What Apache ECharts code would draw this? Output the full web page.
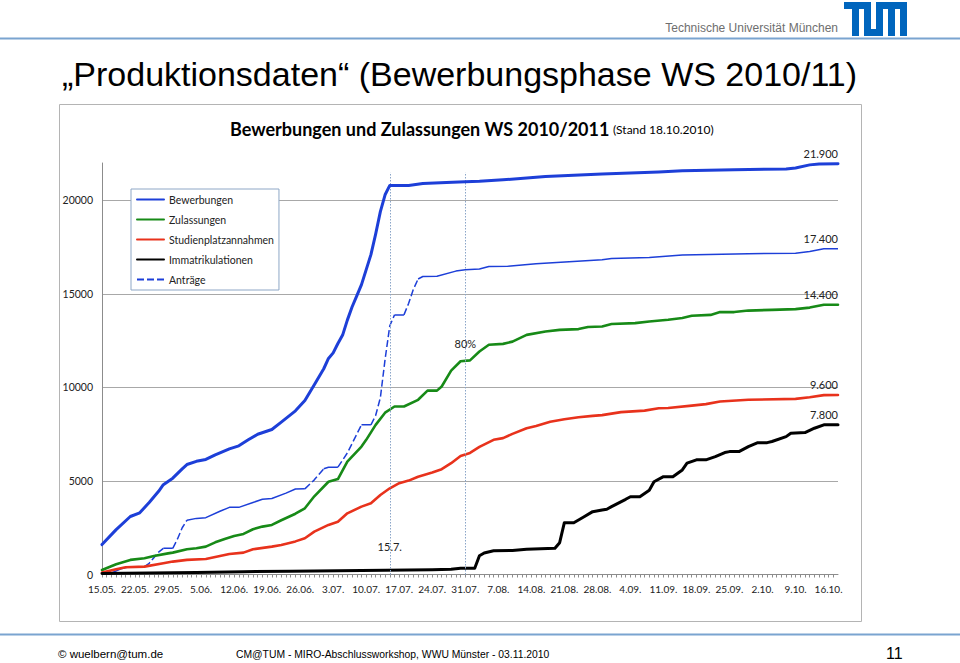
<!DOCTYPE html>
<html><head><meta charset="utf-8">
<script src="https://cdn.jsdelivr.net/npm/echarts@6/dist/echarts.min.js"></script>
<style>html,body{margin:0;padding:0;background:#fff}#c{width:960px;height:663px}</style>
</head><body><div id="c"></div>
<script>
// x values = days after 15.05.2010 (day 0) up to 18.10.2010 (day 156)
const tickLabels = ['15.05.','22.05.','29.05.','5.06.','12.06.','19.06.','26.06.','3.07.','10.07.','17.07.','24.07.','31.07.','7.08.','14.08.','21.08.','28.08.','4.09.','11.09.','18.09.','25.09.','2.10.','9.10.','16.10.'];
const seriesNames = ['Bewerbungen','Zulassungen','Studienplatzannahmen','Immatrikulationen','Anträge'];
const endLabels = ['21.900','14.400','9.600','7.800','17.400'];

const bewerbungen = [[0,1600],[3,2400],[6,3100],[8,3300],[10,3850],[12,4450],[13,4800],[15,5150],[17,5650],[18,5880],[20,6050],[22,6150],[24,6400],[27,6720],[29,6880],[31,7200],[33,7500],[36,7750],[38,8150],[41,8750],[43,9300],[45,10150],[47,11000],[48,11550],[49,11850],[50,12350],[51,12800],[52,13600],[53,14300],[54,14900],[55,15500],[56,16300],[57,17100],[58,18200],[59,19400],[60,20300],[61,20800],[65,20800],[68,20900],[73,20960],[77,21000],[80,21020],[85,21100],[94,21280],[106,21410],[118,21520],[123,21590],[134,21640],[145,21680],[147,21730],[150,21900],[152,21950],[156,21960]];
const zulassungen = [[0,240],[3,550],[6,780],[9,870],[11,990],[14,1130],[15,1170],[18,1350],[20,1400],[22,1490],[24,1720],[26,1900],[28,2060],[30,2170],[32,2420],[34,2560],[36,2650],[38,2900],[41,3250],[43,3540],[45,4180],[48,4960],[50,5100],[52,6040],[55,6840],[56,7200],[58,8000],[60,8650],[62,8980],[64,8980],[67,9340],[69,9830],[71,9830],[72,10050],[74,10900],[76,11400],[78,11450],[80,11920],[82,12280],[85,12330],[87,12450],[90,12810],[94,12990],[97,13080],[101,13120],[103,13230],[106,13260],[108,13390],[113,13440],[116,13530],[120,13620],[123,13710],[125,13830],[129,13880],[131,14030],[134,14030],[137,14110],[142,14150],[147,14190],[150,14270],[153,14420],[156,14420]];
const annahmen = [[0,100],[3,280],[5,390],[9,420],[13,600],[15,690],[18,780],[22,830],[25,990],[27,1100],[30,1170],[32,1350],[36,1490],[38,1580],[41,1770],[43,1940],[45,2290],[48,2650],[50,2820],[52,3270],[55,3630],[57,3810],[59,4250],[61,4610],[63,4880],[65,5020],[67,5230],[70,5450],[72,5630],[74,5950],[76,6340],[78,6500],[80,6820],[83,7200],[85,7290],[87,7520],[90,7820],[92,7940],[95,8170],[98,8300],[101,8410],[104,8480],[106,8520],[110,8680],[115,8760],[118,8890],[120,8900],[125,9030],[128,9110],[131,9250],[137,9340],[147,9390],[150,9480],[153,9590],[156,9600]];
const immatrikulationen = [[0,50],[10,80],[20,110],[30,150],[40,170],[50,200],[60,230],[70,260],[74,280],[76,330],[79,330],[80,1000],[81,1150],[83,1270],[87,1280],[90,1350],[96,1400],[97,1700],[98,2770],[100,2770],[102,3060],[104,3360],[106,3450],[107,3490],[108,3630],[111,4020],[112,4160],[114,4160],[116,4500],[117,4960],[119,5230],[121,5230],[123,5590],[124,5950],[126,6130],[128,6130],[130,6300],[132,6520],[133,6570],[135,6570],[137,6840],[139,7050],[141,7050],[142,7110],[145,7370],[146,7550],[149,7590],[151,7820],[153,8000],[156,8000]];
const antraege = [[1,0],[2,80],[4,300],[6,420],[9,420],[10,600],[11,900],[12,1200],[13,1400],[15,1400],[16,1900],[17,2500],[18,2900],[20,3000],[22,3040],[25,3380],[27,3590],[29,3590],[32,3850],[34,4020],[36,4060],[39,4350],[41,4570],[43,4580],[45,5060],[47,5650],[48,5730],[50,5740],[52,6500],[53,7000],[55,8000],[57,8000],[58,8500],[59,9450],[60,11500],[61,13300],[62,13880],[64,13880],[65,14500],[66,15250],[67,15800],[68,15930],[71,15950],[75,16220],[77,16290],[80,16330],[82,16470],[86,16480],[92,16610],[99,16720],[106,16830],[108,16900],[116,16950],[123,17080],[137,17150],[147,17180],[150,17270],[153,17420],[156,17420]];

// reference lines (15.07. and 31.07.) and their captions
const markerDays = [61, 77];
const markerTexts = ['15.7.', '80%'];
const markerTextValues = [1500, 12350];
const markerTop = 21500;

// split the Anträge line: steep parts dashed, flat parts solid
function splitSteep(data, thr) {
  const steep = [], flat = [];
  for (let i = 0; i < data.length - 1; i++) {
    const a = data[i], b = data[i+1];
    const isSteep = (b[1]-a[1])/(b[0]-a[0]) > thr;
    const t = isSteep ? steep : flat;
    if (t.length && t[t.length-1] !== a) t.push([a[0], null]);
    if (!t.length || t[t.length-1] !== a) t.push(a);
    t.push(b);
  }
  return {steep, flat};
}
const ant = splitSteep(antraege, 170);

const FONT = 'Lato';
function endMark(data, text) {
  return {
    symbol: 'circle', symbolSize: 1, silent: true,
    itemStyle: {color: 'rgba(0,0,0,0)'},
    data: [{coord: data[data.length-1], label: {show: true, formatter: text, position: 'top', align: 'right', distance: 4, color: '#222', fontSize: 11, fontFamily: FONT}}]
  };
}

const BLUE = '#1d3fd8', GREEN = '#178a17', RED = '#e8321c', BLACK = '#000';

const chart = echarts.init(document.getElementById('c'), null, {renderer: 'svg'});
chart.setOption({
  animation: false,
  backgroundColor: '#fff',
  grid: {left: 102, right: 122, top: 163, bottom: 88.5},
  xAxis: {
    type: 'value', min: 0, max: 156, interval: 1,
    axisLine: {show: true, onZero: true, lineStyle: {color: '#8c8c8c', width: 1}},
    axisTick: {show: true, length: 3, lineStyle: {color: '#8c8c8c'}},
    splitLine: {show: false},
    axisLabel: {formatter: v => (v % 7 === 0 && tickLabels[v/7]) ? tickLabels[v/7] : '', color: '#222', fontSize: 10, fontFamily: FONT, margin: 9, showMaxLabel: false}
  },
  yAxis: {
    type: 'value', min: 0, max: 22000, interval: 5000,
    axisLine: {show: true, lineStyle: {color: '#8c8c8c'}},
    axisTick: {show: false},
    splitLine: {show: true, showMaxLine: false, lineStyle: {color: '#a8a8a8', width: 1}},
    axisLabel: {formatter: v => String(v), showMaxLabel: false, color: '#222', fontSize: 10.5, fontFamily: FONT, margin: 9}
  },
  legend: {
    orient: 'vertical', left: 131, top: 189,
    data: seriesNames,
    itemWidth: 27, itemHeight: 2, itemGap: 7,
    padding: [4, 5, 4, 5],
    backgroundColor: '#fff', borderColor: '#8ea7c6', borderWidth: 1, borderRadius: 0,
    itemStyle: {opacity: 0, borderWidth: 0},
    textStyle: {fontFamily: FONT, fontSize: 10.5, color: '#222', lineHeight: 13},
    selectedMode: false
  },
  series: [
    {name: seriesNames[0], type: 'line', data: bewerbungen, symbol: 'none', z: 5,
     lineStyle: {color: BLUE, width: 3, cap: 'round', join: 'round'}, itemStyle: {color: BLUE},
     markPoint: (() => { const m = endMark(bewerbungen, endLabels[0]);
        markerDays.forEach((d, i) => m.data.push({coord: [d, markerTextValues[i]], label: {show: true, formatter: markerTexts[i], position: 'inside', align: 'center', color: '#222', fontSize: 11, fontFamily: FONT}}));
        return m; })(),
     markLine: {symbol: 'none', silent: true, label: {show: false},
       lineStyle: {color: '#8aa5c8', type: [1.5, 1.5], width: 1},
       data: markerDays.map(d => [{coord: [d, 0]}, {coord: [d, markerTop]}])}
    },
    {name: seriesNames[1], type: 'line', data: zulassungen, symbol: 'none', z: 4,
     lineStyle: {color: GREEN, width: 2.6, cap: 'round', join: 'round'}, itemStyle: {color: GREEN},
     markPoint: endMark(zulassungen, endLabels[1])},
    {name: seriesNames[2], type: 'line', data: annahmen, symbol: 'none', z: 4,
     lineStyle: {color: RED, width: 2.6, cap: 'round', join: 'round'}, itemStyle: {color: RED},
     markPoint: endMark(annahmen, endLabels[2])},
    {name: seriesNames[3], type: 'line', data: immatrikulationen, symbol: 'none', z: 4,
     lineStyle: {color: BLACK, width: 3, cap: 'round', join: 'round'}, itemStyle: {color: BLACK},
     markPoint: endMark(immatrikulationen, endLabels[3])},
    {name: seriesNames[4], type: 'line', data: ant.steep, symbol: 'none', z: 3, connectNulls: false,
     lineStyle: {color: BLUE, width: 1.5, type: [7, 3]}, itemStyle: {color: BLUE},
     markPoint: endMark(antraege, endLabels[4])},
    {name: seriesNames[4], type: 'line', data: ant.flat, symbol: 'none', z: 3, connectNulls: false,
     lineStyle: {color: BLUE, width: 1.5, type: 'solid'}, itemStyle: {color: BLUE}}
  ],
  graphic: [
    {type: 'line', shape: {x1: 0, y1: 38.5, x2: 960, y2: 38.5}, style: {stroke: '#7aa4d0', lineWidth: 2}, silent: true},
    {type: 'text', right: 122, top: 22, style: {text: 'Technische Universität München', fill: '#6e6e6e', font: '12px "Liberation Sans", Arial, sans-serif'}},
    {type: 'group', left: 844, top: 2, silent: true, children: [
      {type: 'rect', shape: {x: 0, y: 0, width: 63, height: 34}, style: {fill: '#0065bd'}},
      {type: 'rect', shape: {x: 0, y: 7, width: 8, height: 27}, style: {fill: '#fff'}},
      {type: 'rect', shape: {x: 15, y: 7, width: 5, height: 27}, style: {fill: '#fff'}},
      {type: 'rect', shape: {x: 27, y: 0, width: 5, height: 27}, style: {fill: '#fff'}},
      {type: 'rect', shape: {x: 39, y: 7, width: 5, height: 27}, style: {fill: '#fff'}},
      {type: 'rect', shape: {x: 51, y: 7, width: 5, height: 27}, style: {fill: '#fff'}}
    ]},
    {type: 'text', left: 62, top: 57, style: {text: '„Produktionsdaten“ (Bewerbungsphase WS 2010/11)', fill: '#000', font: '34px "Liberation Sans", Arial, sans-serif'}},
    {type: 'rect', shape: {x: 59.5, y: 104.5, width: 802, height: 517}, style: {fill: 'none', stroke: '#b4b4b4', lineWidth: 1}, silent: true},
    {type: 'text', left: 230, top: 120, style: {text: '{b|Bewerbungen und Zulassungen WS 2010/2011} {s|(Stand 18.10.2010)}',
      rich: {b: {fontFamily: FONT, fontWeight: 'bold', fontSize: 18, fill: '#000'}, s: {fontFamily: FONT, fontSize: 12, fill: '#000'}}}},
    {type: 'line', shape: {x1: 0, y1: 634.5, x2: 960, y2: 634.5}, style: {stroke: '#7aa4d0', lineWidth: 2}, silent: true},
    {type: 'text', left: 58, top: 648, style: {text: '© wuelbern@tum.de', fill: '#000', font: '11.5px "Liberation Sans", Arial, sans-serif'}},
    {type: 'text', x: 236, y: 648, scaleX: 0.9, style: {text: 'CM@TUM - MIRO-Abschlussworkshop, WWU Münster - 03.11.2010', fill: '#000', font: '11.5px "Liberation Sans", Arial, sans-serif'}},
    {type: 'text', left: 886, top: 645, style: {text: '11', fill: '#000', font: '16px "Liberation Sans", Arial, sans-serif'}}
  ]
});
</script></body></html>
